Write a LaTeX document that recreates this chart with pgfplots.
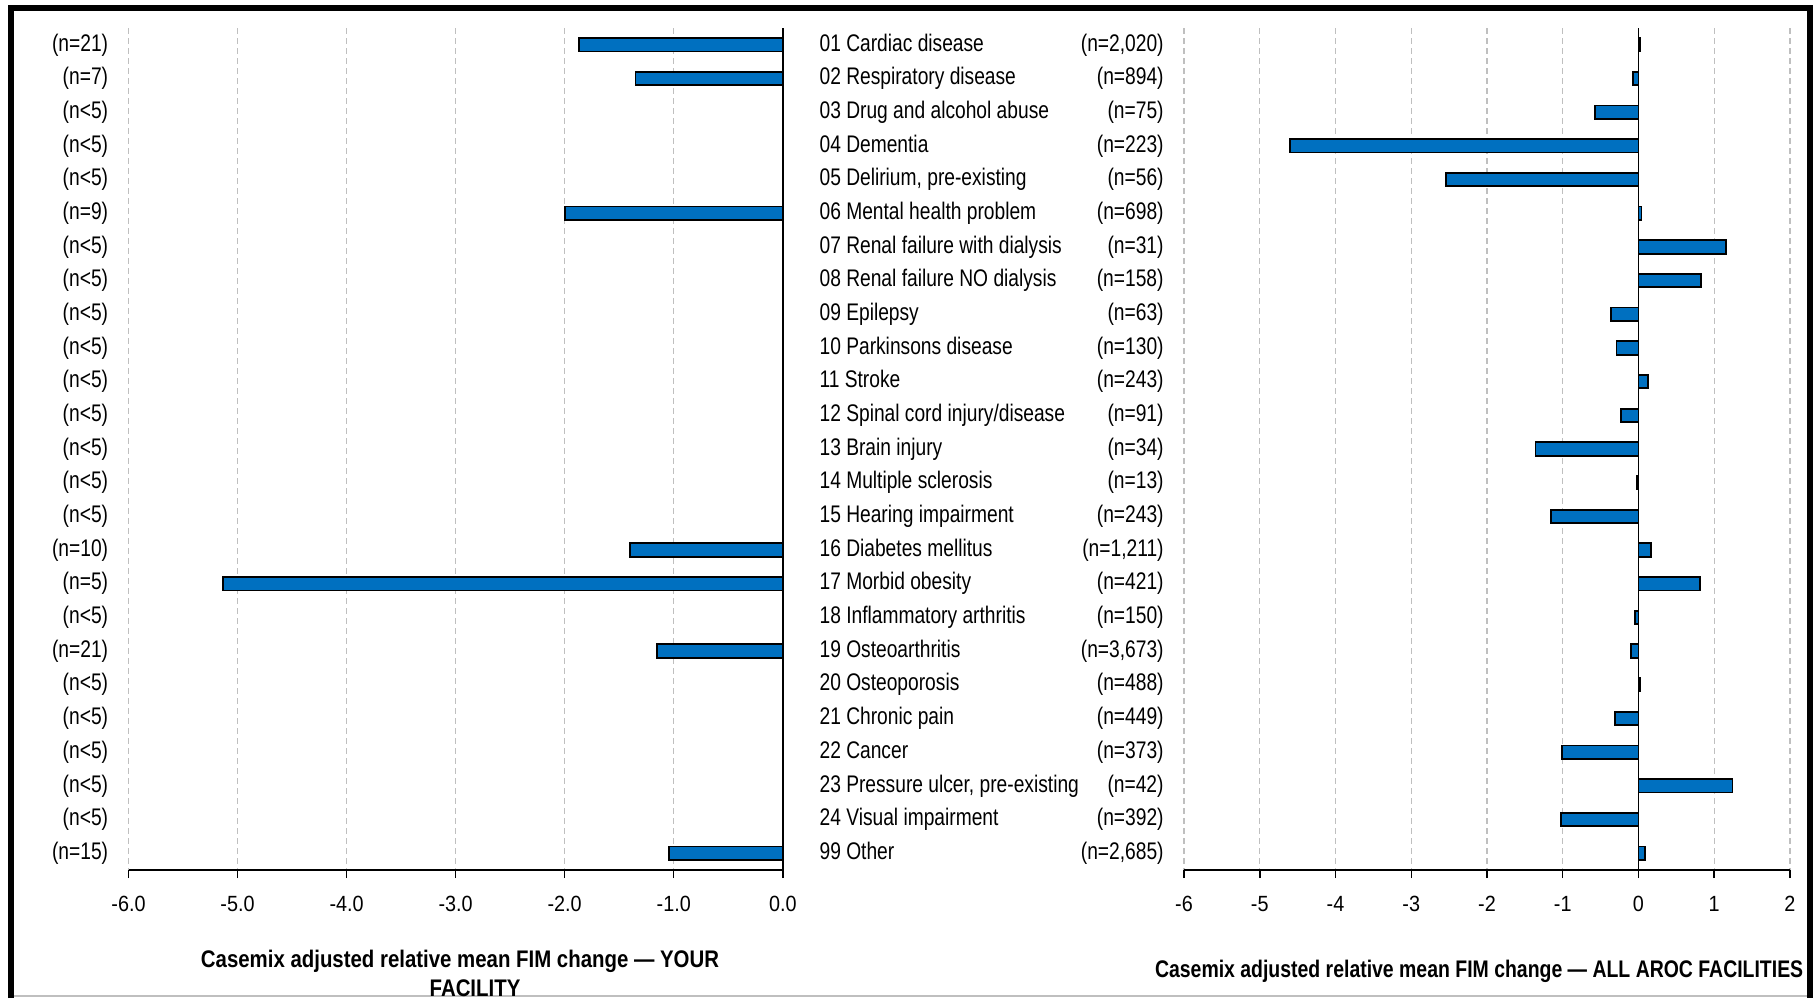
\documentclass[border=0pt]{standalone}
\usepackage{fontspec}
\setmainfont{Liberation Sans}
\newfontfamily\catfont{Liberation Sans}[FakeStretch=0.8]
\newfontfamily\tickfont{Liberation Sans}[FakeStretch=0.9]
\newfontfamily\lfontA{Liberation Sans}[FakeStretch=0.85]
\newfontfamily\lfontB{Liberation Sans}[FakeStretch=0.81]
\usepackage{pgfplots}
\pgfplotsset{compat=1.18}
\definecolor{barblue}{RGB}{0,112,192}
\definecolor{gridgray}{RGB}{191,191,191}
\newcommand\cat[2]{\makebox[172pt]{#1\hfill#2}}

\pgfplotsset{
  commonax/.style={
    anchor=south west, scale only axis, height=421pt,
    ymin=0.5, ymax=25.5, y dir=reverse, ytick={1,...,25},
    axis x line*=bottom, axis y line*=left,
    y axis line style={draw=none}, ytick style={draw=none},
    x axis line style={line width=1pt},
    xtick style={black, line width=0.75pt}, tick align=outside, major tick length=4pt,
    xmajorgrids=true,
    major grid style={gridgray, dash pattern=on 3pt off 2pt, line width=0.6pt},
    xticklabel style={font=\tickfont\fontsize{11}{13}\selectfont, anchor=base, inner sep=0pt, yshift=-16.96pt},
    yticklabel style={font=\catfont\fontsize{12}{14}\selectfont, anchor=east, inner sep=0pt, xshift=-6pt},
    /pgf/number format/assume math mode=true,
    clip=false,
  },
  mybar/.style={xbar, bar width=6.7pt, fill=barblue, draw=black, line width=0.9pt},
}

\begin{document}
\begin{tikzpicture}
\path (0pt,0pt) rectangle (908pt,-500.5pt);
\draw[gridgray, line width=1pt] (5pt,-498pt) -- (905pt,-498pt);
\draw[black, line width=3pt] (5.25pt,-499pt) -- (5.25pt,-3.75pt) -- (905pt,-3.75pt) -- (905pt,-499pt);

\begin{axis}[commonax,
  at={(64.25pt,-435pt)}, width=327.15pt,
  xmin=-6, xmax=0, xtick={-6,-5,...,0},
  xticklabel style={/pgf/number format/.cd, fixed, fixed zerofill, precision=1},
  yticklabels={{(n=21)},{(n=7)},{(n<5)},{(n<5)},{(n<5)},{(n=9)},{(n<5)},{(n<5)},{(n<5)},{(n<5)},{(n<5)},{(n<5)},{(n<5)},{(n<5)},{(n<5)},{(n=10)},{(n=5)},{(n<5)},{(n=21)},{(n<5)},{(n<5)},{(n<5)},{(n<5)},{(n<5)},{(n=15)}},
  xlabel={Casemix adjusted relative mean FIM change — YOUR\hspace*{15pt}\\FACILITY},
  xlabel style={font=\lfontA\bfseries\fontsize{12}{14.5}\selectfont, align=center, at={(axis description cs:0.5296,0)}, anchor=north, inner sep=0pt, yshift=-40pt},
]
\addplot[mybar] coordinates {(-1.87,1) (-1.35,2) (-2.00,6) (-1.40,16) (-5.13,17) (-1.15,19) (-1.04,25)};
\addplot[black, line width=0.75pt, forget plot] coordinates {(0,0.5) (0,25.5)};
\end{axis}

\begin{axis}[commonax,
  at={(592pt,-435pt)}, width=303pt,
  xmin=-6, xmax=2, xtick={-6,-5,...,2},
  yticklabels={
    {\cat{01 Cardiac disease}{(n=2,020)}},
    {\cat{02 Respiratory disease}{(n=894)}},
    {\cat{03 Drug and alcohol abuse}{(n=75)}},
    {\cat{04 Dementia}{(n=223)}},
    {\cat{05 Delirium, pre-existing}{(n=56)}},
    {\cat{06 Mental health problem}{(n=698)}},
    {\cat{07 Renal failure with dialysis}{(n=31)}},
    {\cat{08 Renal failure NO dialysis}{(n=158)}},
    {\cat{09 Epilepsy}{(n=63)}},
    {\cat{10 Parkinsons disease}{(n=130)}},
    {\cat{11 Stroke}{(n=243)}},
    {\cat{12 Spinal cord injury/disease}{(n=91)}},
    {\cat{13 Brain injury}{(n=34)}},
    {\cat{14 Multiple sclerosis}{(n=13)}},
    {\cat{15 Hearing impairment}{(n=243)}},
    {\cat{16 Diabetes mellitus}{(n=1,211)}},
    {\cat{17 Morbid obesity}{(n=421)}},
    {\cat{18 Inflammatory arthritis}{(n=150)}},
    {\cat{19 Osteoarthritis}{(n=3,673)}},
    {\cat{20 Osteoporosis}{(n=488)}},
    {\cat{21 Chronic pain}{(n=449)}},
    {\cat{22 Cancer}{(n=373)}},
    {\cat{23 Pressure ulcer, pre-existing}{(n=42)}},
    {\cat{24 Visual impairment}{(n=392)}},
    {\cat{99 Other}{(n=2,685)}}},
  xlabel={Casemix adjusted relative mean FIM change — ALL AROC FACILITIES},
  xlabel style={font=\lfontB\bfseries\fontsize{12}{14}\selectfont, at={(axis description cs:0.487,0)}, anchor=north, inner sep=0pt, yshift=-44.6pt},
]
\addplot[mybar] coordinates {
  (0.02,1) (-0.07,2) (-0.57,3) (-4.60,4) (-2.54,5) (0.04,6) (1.15,7) (0.83,8)
  (-0.36,9) (-0.29,10) (0.13,11) (-0.23,12) (-1.36,13) (-0.02,14) (-1.15,15)
  (0.16,16) (0.81,17) (-0.05,18) (-0.10,19) (0.02,20) (-0.31,21) (-1.01,22)
  (1.24,23) (-1.02,24) (0.09,25)};
\addplot[black, line width=0.75pt, forget plot] coordinates {(0,0.5) (0,25.5)};
\end{axis}
\end{tikzpicture}
\end{document}
